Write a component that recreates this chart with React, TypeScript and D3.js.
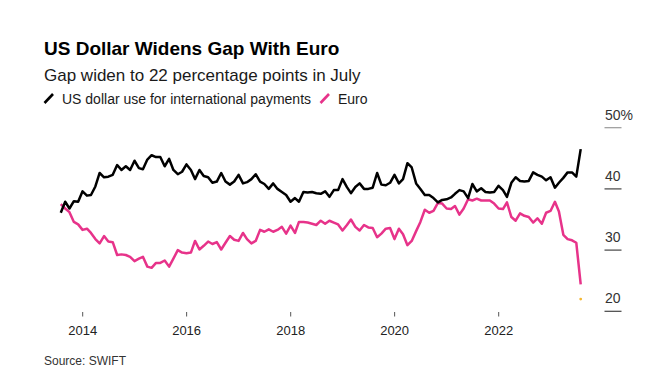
import * as d3 from "d3";

// monthly shares (%), end of month, Jul 2013 .. Jul 2023
const firstMonth = { year: 2013, month: 6 };

const usdShare = [
  36.1, 37.9, 36.8, 38.0, 37.9, 39.6, 38.9, 39.0, 40.4, 42.6, 41.9, 42.0,
  42.3, 43.9, 43.1, 43.7, 43.1, 44.6, 43.4, 43.2, 44.8, 45.5, 45.2, 45.2,
  43.7, 44.9, 43.1, 42.4, 42.8, 44.0, 43.1, 41.6, 43.1, 42.1, 41.9, 41.0,
  41.2, 42.6, 41.2, 40.7, 41.2, 42.3, 40.9, 41.1, 41.6, 42.4, 41.2, 40.8,
  40.0, 40.9, 40.0, 39.5, 39.0, 37.9, 38.5, 37.9, 39.5, 39.4, 39.5, 39.3,
  39.2, 39.6, 38.7, 39.8, 39.8, 41.6, 40.3, 39.3, 40.3, 40.9, 40.0, 40.0,
  40.2, 42.6, 40.7, 40.6, 41.0, 42.3, 40.9, 41.6, 44.2, 43.5, 40.9, 40.0,
  39.0, 39.0, 38.5, 37.8, 38.2, 38.3, 38.6, 39.2, 39.8, 39.6, 38.5, 40.8,
  39.6, 40.1, 39.5, 39.4, 39.5, 40.5, 39.8, 38.7, 41.0, 41.9, 41.3, 41.2,
  41.3, 42.7, 42.3, 42.0, 41.4, 41.9, 40.2, 41.0, 41.8, 42.7, 42.7, 42.0,
  46.5,
];

const eurShare = [
  37.5, 36.8, 36.2, 34.6, 34.2, 33.3, 33.5, 32.8, 31.8, 31.1, 32.3, 31.4,
  31.3, 29.2, 29.3, 29.2, 28.9, 28.2, 28.6, 28.9, 27.3, 27.1, 27.9, 27.9,
  28.3, 27.3, 28.6, 30.0, 29.6, 29.5, 29.6, 31.5, 30.1, 30.7, 31.4, 31.0,
  31.3, 30.1, 31.2, 32.3, 31.7, 31.5, 32.8, 31.8, 31.1, 31.5, 33.3, 33.0,
  33.4, 33.0, 33.3, 33.8, 32.7, 34.0, 32.8, 34.6, 34.6, 34.5, 34.3, 34.1,
  34.8, 34.3, 34.8, 34.5, 34.2, 33.2, 34.1, 35.0, 33.8, 33.2, 34.1, 33.7,
  33.6, 32.1, 32.7, 33.5, 33.6, 31.8, 33.5, 32.6, 30.8, 31.5, 33.1, 34.6,
  36.6, 36.1, 36.4, 37.7, 37.6, 36.8, 36.7, 37.2, 35.8, 36.8, 38.3, 38.1,
  38.4, 38.1, 38.1, 38.1, 37.6, 36.8, 36.7, 37.8, 35.4, 34.8, 36.0, 35.6,
  35.4, 34.5, 35.2, 34.3, 36.1, 36.4, 37.9, 36.3, 32.5, 31.8, 31.6, 31.2,
  24.4,
];

// gap in percentage points for the latest month
const latestGap = 22;

const yTicks = [20, 30, 40, 50];
const xTickYears = [2014, 2016, 2018, 2020, 2022];

const W = 647;
const H = 384;
const FONT = "'Liberation Sans', Arial, Helvetica, sans-serif";

const monthEnd = (i: number) =>
  new Date(firstMonth.year, firstMonth.month + i + 1, 0);

export default function App() {
  const x = d3
    .scaleTime()
    .domain([new Date(2014, 0, 1), new Date(2022, 0, 1)])
    .range([82.7, 498.7]);
  const y = d3.scaleLinear().domain([20, 50]).range([311.3, 127.7]);

  const line = d3
    .line<number>()
    .x((_, i) => x(monthEnd(i)))
    .y((d) => y(d));

  const lastDate = monthEnd(usdShare.length - 1);

  return (
    <svg
      width={W}
      height={H}
      style={{ position: "absolute", left: 0, top: 0, background: "#fff" }}
      fontFamily={FONT}
    >
      <text x={44} y={55} fontSize={19} fontWeight="bold" fill="#000">
        US Dollar Widens Gap With Euro
      </text>
      <text x={44} y={81} fontSize={17} fill="#1a1a1a">
        Gap widen to 22 percentage points in July
      </text>

      {/* legend */}
      <line x1={44.5} y1={103} x2={53} y2={94} stroke="#000" strokeWidth={2.6} />
      <text x={62} y={103.5} fontSize={14} fill="#1a1a1a">
        US dollar use for international payments
      </text>
      <line x1={320.5} y1={103} x2={329} y2={94} stroke="#e7338a" strokeWidth={2.6} />
      <text x={338} y={103.5} fontSize={14} fill="#1a1a1a">
        Euro
      </text>

      {/* y axis on the right */}
      {yTicks.map((t) => (
        <g key={t}>
          <line
            x1={604.5}
            x2={621.5}
            y1={y(t)}
            y2={y(t)}
            stroke={t === 50 ? "#999" : "#444"}
            strokeWidth={1.2}
          />
          <text x={605} y={y(t) - 8} fontSize={14} fill="#333">
            {t === 50 ? "50%" : t}
          </text>
        </g>
      ))}

      {/* x axis */}
      {xTickYears.map((yr) => {
        const px = x(new Date(yr, 0, 1));
        return (
          <g key={yr}>
            <line x1={px} x2={px} y1={312} y2={316.5} stroke="#555" strokeWidth={1} />
            <text x={px} y={335} fontSize={13} fill="#222" textAnchor="middle">
              {yr}
            </text>
          </g>
        );
      })}

      <path
        d={line(eurShare) ?? ""}
        fill="none"
        stroke="#e7338a"
        strokeWidth={2.5}
        strokeLinejoin="round"
      />
      <path
        d={line(usdShare) ?? ""}
        fill="none"
        stroke="#000"
        strokeWidth={2.5}
        strokeLinejoin="round"
      />
      <circle cx={x(lastDate)} cy={y(latestGap)} r={1.4} fill="#f5b731" />

      <text x={44} y={365} fontSize={12} fill="#333">
        Source: SWIFT
      </text>
    </svg>
  );
}
